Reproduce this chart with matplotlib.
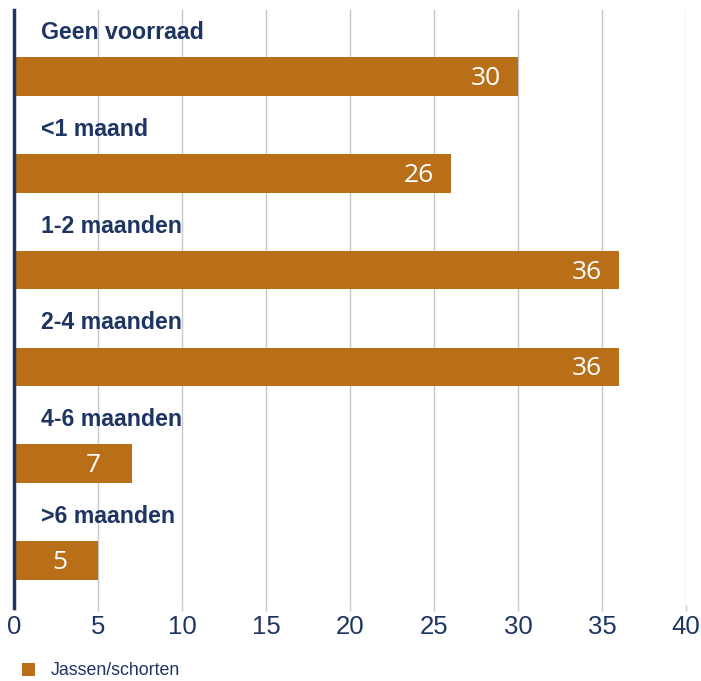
import matplotlib.pyplot as plt
from matplotlib.patches import Patch

categories = ["Geen voorraad", "<1 maand", "1-2 maanden", "2-4 maanden", "4-6 maanden", ">6 maanden"]
values = [30, 26, 36, 36, 7, 5]
series_name = "Jassen/schorten"
x_ticks = [0, 5, 10, 15, 20, 25, 30, 35, 40]

BAR_COLOR = "#B96E18"
NAVY = "#1E3461"
GRID = "#C4C7CC"

fig = plt.figure(figsize=(7.01, 6.81), dpi=100)
ax = fig.add_axes([0.02, 0.1116, 0.9586, 0.8737])

ypos = list(range(len(categories)))
ax.barh(ypos, values, height=0.40, color=BAR_COLOR, zorder=3)

for y, v, name in zip(ypos, values, categories):
    # category label sits above its bar
    ax.text(1.6, y - 0.455, name, ha="left", va="center",
            fontsize=16.7, fontweight="bold", color=NAVY, family="Liberation Sans", zorder=4)
    off = 1.9 if v >= 10 else 2.3
    ax.text(v - off, y + 0.02, str(v), ha="center", va="center",
            fontsize=19, color="white", family="Open Sans", zorder=4)

ax.set_xlim(0, 40)
ax.set_ylim(5.46, -0.687)
ax.set_xticks(x_ticks)
ax.set_xticklabels([str(t) for t in x_ticks], fontsize=18.5, color=NAVY, family="Liberation Sans")
ax.set_yticks([])

ax.grid(True, axis="x", color=GRID, linewidth=1.0, zorder=0)
ax.tick_params(axis="x", length=4, width=1.0, color=GRID, pad=3)

for s in ["top", "right", "bottom"]:
    ax.spines[s].set_visible(False)
ax.spines["left"].set_color(NAVY)
ax.spines["left"].set_linewidth(2.5)
ax.spines["left"].set_bounds(5.46 + 0.03, -0.687)
ax.spines["left"].set_zorder(5)

fig.legend(handles=[Patch(facecolor=BAR_COLOR, edgecolor="none", label=series_name)],
           loc="lower left", bbox_to_anchor=(0.008, -0.021), frameon=False,
           prop={"family": "Liberation Sans", "size": 12.8}, labelcolor=NAVY,
           handlelength=0.75, handleheight=0.75, handletextpad=0.9)

fig.savefig("out.png", dpi=100)
